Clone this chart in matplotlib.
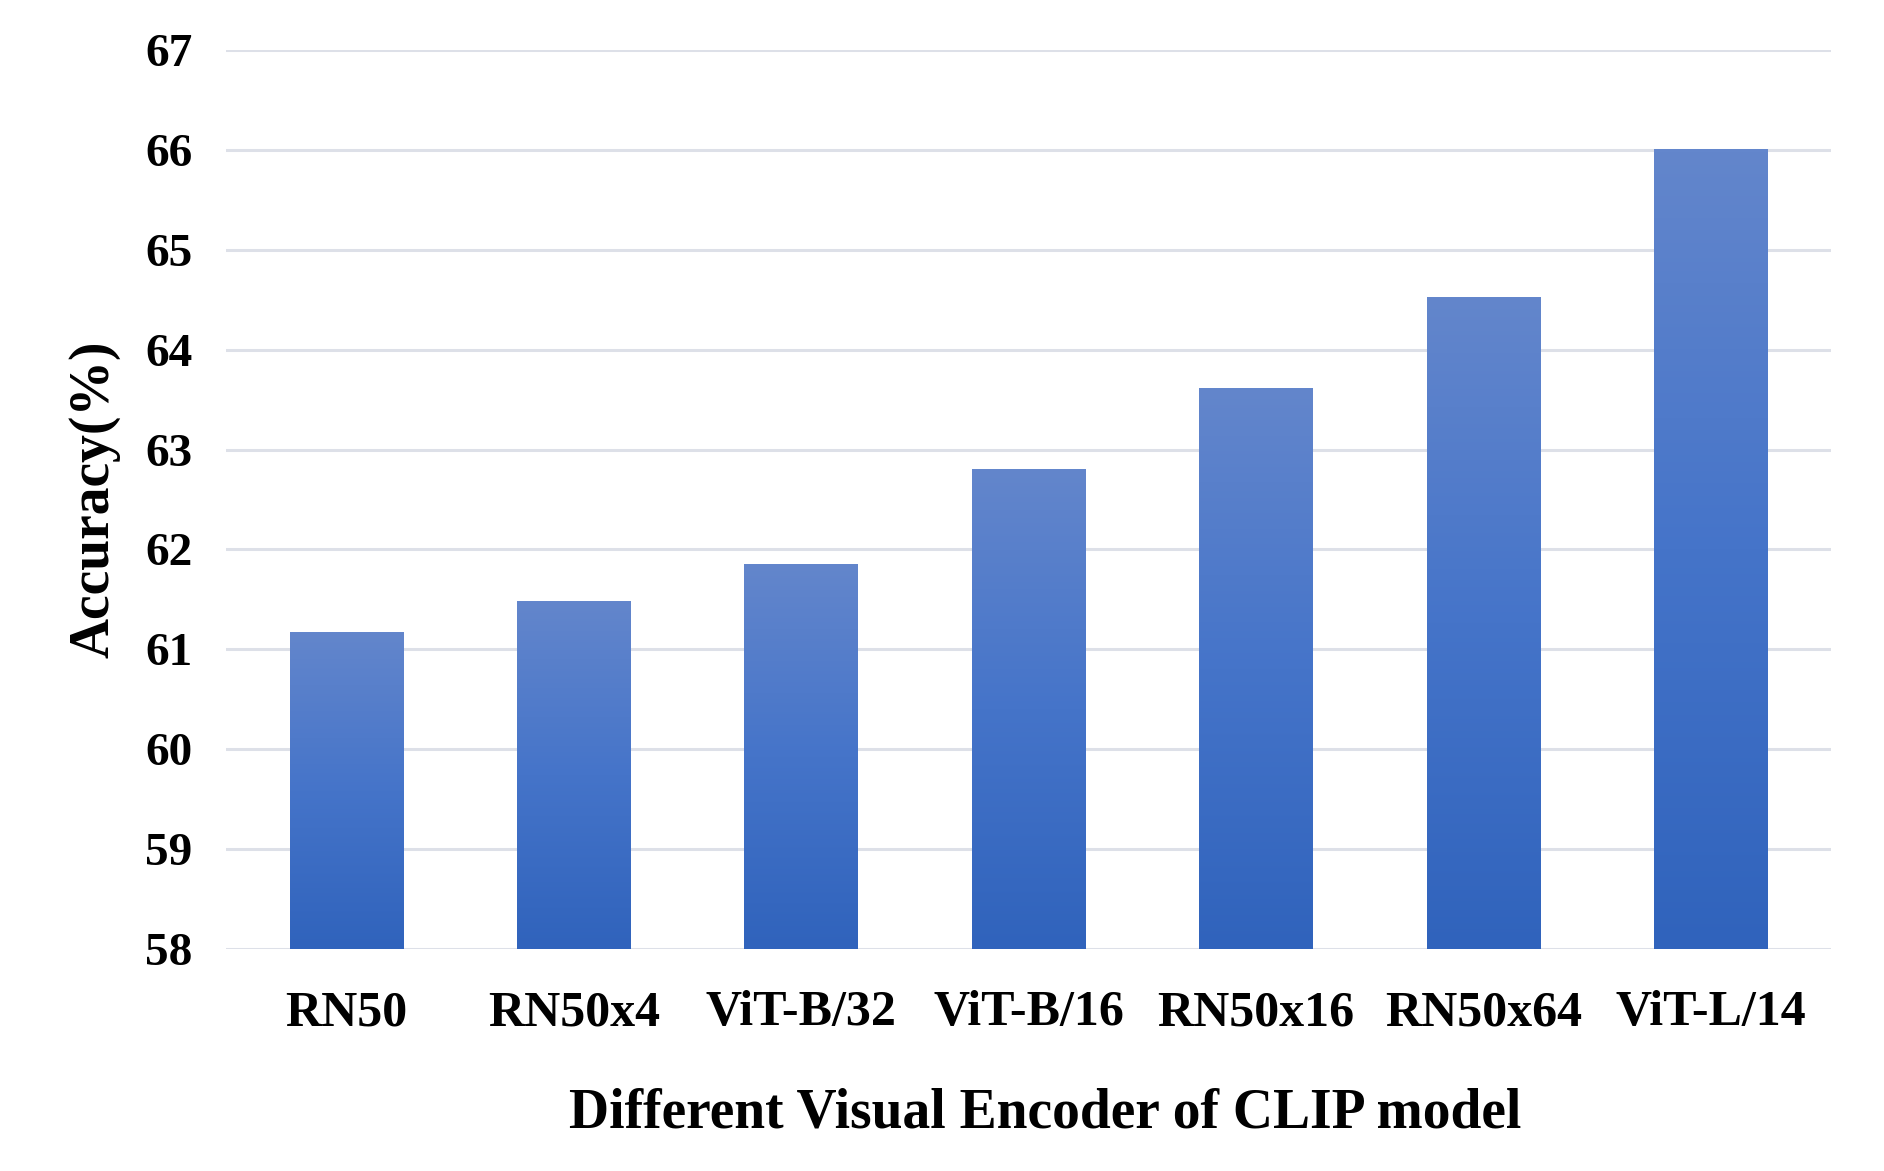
import numpy as np
import matplotlib
matplotlib.use('Agg')
import matplotlib.pyplot as plt
from matplotlib.colors import LinearSegmentedColormap

models = ['RN50', 'RN50x4', 'ViT-B/32', 'ViT-B/16', 'RN50x16', 'RN50x64', 'ViT-L/14']
accuracy = [61.17, 61.48, 61.85, 62.80, 63.62, 64.53, 66.01]
y_ticks = [58, 59, 60, 61, 62, 63, 64, 65, 66, 67]

plt.rcParams['font.family'] = ['Liberation Serif', 'DejaVu Serif']
plt.rcParams['font.weight'] = 'bold'

fig = plt.figure(figsize=(18.84, 11.71), dpi=100)
ax = fig.add_axes([0.12, 0.19, 0.852, 0.767])

x = np.arange(len(models))
bars = ax.bar(x, [a - 58 for a in accuracy], bottom=58, width=0.5, color='none', zorder=3)

# vertical gradient, light at the top of every bar
cmap = LinearSegmentedColormap.from_list('grad', ['#3063bc', '#4574c9', '#6386cc'])
grad = np.linspace(0, 1, 256).reshape(-1, 1)
for b in bars:
    x0, y0 = b.get_x(), b.get_y()
    im = ax.imshow(grad, cmap=cmap, origin='lower', aspect='auto', zorder=3,
                   extent=[x0, x0 + b.get_width(), y0, y0 + b.get_height()])
    im.set_clip_path(b)

ax.set_xlim(-0.53, len(models) - 0.47)
ax.set_ylim(58, 67)
ax.set_yticks(y_ticks)
ax.set_xticks(x)
ax.set_xticklabels(models)
ax.yaxis.grid(True, color='#dde0e8', linewidth=2.2, zorder=0)
ax.set_axisbelow(True)
for s in ax.spines.values():
    s.set_visible(False)
ax.tick_params(axis='x', length=0, labelsize=36, pad=30)
ax.tick_params(axis='y', length=0, labelsize=34, pad=24)

ax.set_ylabel('Accuracy(%)', fontsize=40, fontweight='bold', labelpad=18)
ax.set_xlabel('Different Visual Encoder of CLIP model', fontsize=40, fontweight='bold')
ax.xaxis.set_label_coords(0.51, -0.155)

fig.savefig('out.png', dpi=100)
